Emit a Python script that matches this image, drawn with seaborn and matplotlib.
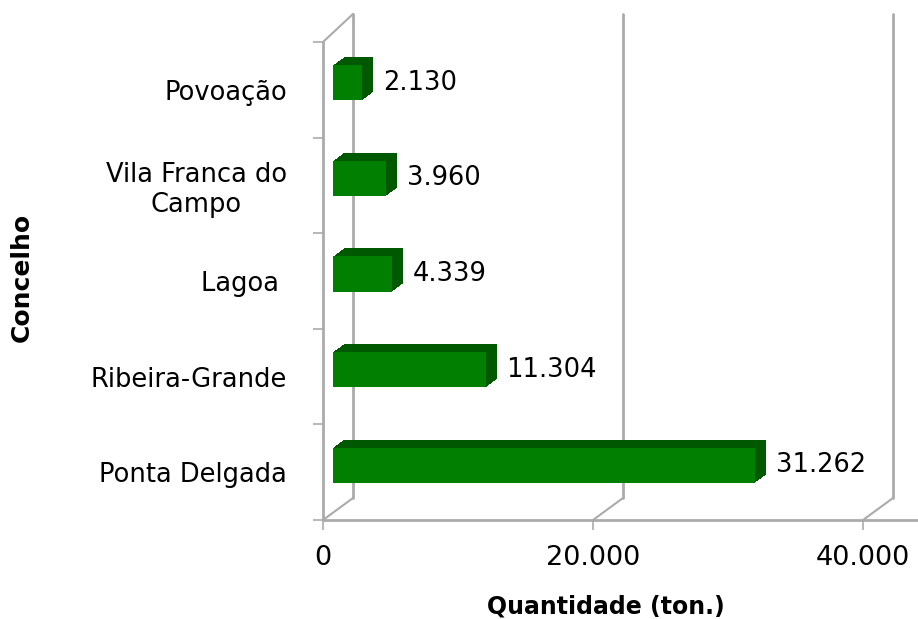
import matplotlib
matplotlib.use("Agg")
import matplotlib.pyplot as plt
import matplotlib.transforms as mtransforms
from matplotlib.patches import Rectangle
from matplotlib.lines import Line2D
import numpy as np
import pandas as pd
import seaborn as sns

# %% DATOS
concelhos = ["Povoação", "Vila Franca do\nCampo", "Lagoa ", "Ribeira-Grande", "Ponta Delgada"]
quantidade = [2130, 3960, 4339, 11304, 31262]
x_ticks = [0, 20000, 40000]
x_tick_labels = ["0", "20.000", "40.000"]

datos = pd.DataFrame({"Concelho": concelhos, "Quantidade": quantidade})

# %% GRAFICO
sns.set_style("white")
plt.rcParams['font.family'] = ['DejaVu Sans']
plt.rcParams['text.color'] = 'black'
plt.rcParams['axes.labelcolor'] = 'black'
plt.rcParams['xtick.labelcolor'] = 'black'
plt.rcParams['ytick.labelcolor'] = 'black'

fig = plt.figure(figsize=(9.18, 6.19), dpi=100)
ax = fig.add_axes([323 / 918, 99 / 619, 595 / 918, 478 / 619])

verde = "#007f00"
verde_osc = "#005800"
gris = "#ababab"

sns.barplot(data=datos, x="Quantidade", y="Concelho", orient="h",
            color=verde, width=0.37, saturation=1, ax=ax, zorder=3)

ax.set_xlim(0, 44074)
ax.set_ylim(4.5, -0.5)

# profundidad 3D (pixeles)
fondo_dx, fondo_dy = 30, 22
barra_dx, barra_dy = 10, 7
prof = 11

# extrusion de las barras: capas oscuras detras de la cara frontal
barras = list(ax.patches)
for p in barras:
    x0, y0 = p.get_x(), p.get_y()
    w, h = p.get_width(), p.get_height()
    for d in range(prof, 0, -1):
        tr = mtransforms.offset_copy(ax.transData, fig=fig, x=barra_dx + d,
                                     y=barra_dy + d * 8 / prof, units='dots')
        r = Rectangle((x0, y0), w, h, facecolor=verde_osc, edgecolor='none',
                      transform=tr, zorder=2.5)
        ax.add_patch(r)
    p.set_transform(mtransforms.offset_copy(ax.transData, fig=fig,
                                            x=barra_dx, y=barra_dy, units='dots'))
    p.set_edgecolor('none')

# etiquetas de valores
tr_txt = mtransforms.offset_copy(ax.transData, fig=fig, x=31, y=7, units='dots')
for i, v in enumerate(quantidade):
    ax.text(v, i, f"{v:,}".replace(",", "."), transform=tr_txt,
            ha='left', va='center', fontsize=18.5, color='black', zorder=5,
            clip_on=False)

# paredes del fondo
tr_fondo = mtransforms.offset_copy(ax.transData, fig=fig, x=fondo_dx, y=fondo_dy, units='dots')
for xt in x_ticks:
    ax.plot([xt, xt], [4.5, -0.56], color=gris, lw=2, transform=tr_fondo,
            clip_on=False, zorder=1)
    p0 = ax.transData.transform((xt, 4.5))
    fig.add_artist(Line2D([p0[0], p0[0] + fondo_dx], [p0[1], p0[1] + fondo_dy],
                          color=gris, lw=1.5, transform=mtransforms.IdentityTransform()))
p0 = ax.transData.transform((0, -0.5))
fig.add_artist(Line2D([p0[0], p0[0] + fondo_dx], [p0[1], p0[1] + fondo_dy + 6],
                      color=gris, lw=1.5, transform=mtransforms.IdentityTransform()))

# ejes
sns.despine(ax=ax, top=True, right=True)
for s in ["left", "bottom"]:
    ax.spines[s].set_color(gris)
    ax.spines[s].set_linewidth(2)
    ax.spines[s].set_zorder(4)

ax.set_xticks(x_ticks)
ax.set_xticklabels(x_tick_labels, fontsize=19.5)
ax.set_yticks(np.arange(len(concelhos) + 1) - 0.5, minor=True)
ax.tick_params(axis='y', which='major', length=0, pad=26, labelsize=18.5)
ax.tick_params(axis='y', which='minor', length=7, width=1.2, color=gris, direction='out', left=True)
ax.tick_params(axis='x', length=7, width=1.2, color=gris, pad=11, bottom=True)
for lbl in ax.get_yticklabels():
    lbl.set_multialignment('center')

ax.set_xlabel("Quantidade (ton.)", fontsize=17, fontweight='bold')
ax.set_ylabel("Concelho", fontsize=18, fontweight='bold')
ax.xaxis.set_label_coords(0.4756, -0.182)
ax.xaxis.label.set_va('center')
ax.yaxis.set_label_coords(-0.506, 0.508)
ax.yaxis.label.set_va('center')
ax.grid(False)

fig.savefig("out.png", dpi=100)
